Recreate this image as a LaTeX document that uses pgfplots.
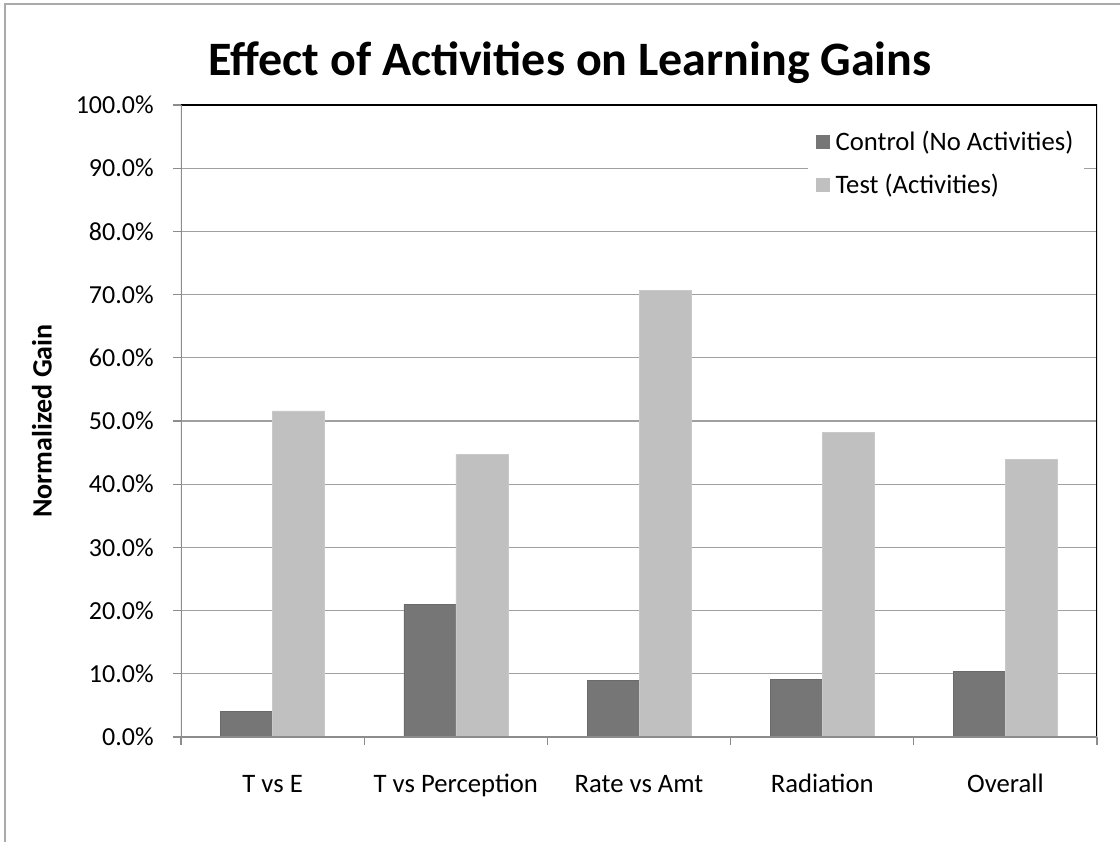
\documentclass[border=0pt]{standalone}
\usepackage{fontspec}
\setmainfont{Carlito}
\usepackage{pgfplots}
\pgfplotsset{compat=1.18}
\definecolor{ctrl}{RGB}{118,118,118}
\definecolor{test}{RGB}{192,192,192}
\definecolor{gridc}{RGB}{160,160,160}
\definecolor{axc}{RGB}{140,140,140}
\definecolor{frame}{RGB}{170,170,170}
\begin{document}
\begin{tikzpicture}
\begin{axis}[
  scale only axis,
  width=687pt, height=474pt,
  xmin=-0.5, xmax=4.5,
  ymin=0, ymax=100,
  ybar=0pt,
  bar width=39pt,
  axis line style={draw=none},
  xtick={0,1,2,3,4},
  xticklabels={T vs E, T vs Perception, Rate vs Amt, Radiation, Overall},
  x tick style={draw=none},
  minor xtick={-0.5,0.5,1.5,2.5,3.5,4.5},
  minor x tick style={draw=axc, line width=1pt},
  minor tick length=6pt,
  ytick={0,10,...,100},
  y tick style={draw=axc, line width=1pt},
  major tick length=6pt,
  tick align=outside,
  tick pos=left,
  ymajorgrids,
  major grid style={draw=gridc, line width=1pt},
  /pgf/number format/assume math mode=true,
  yticklabel={\pgfmathprintnumber[fixed,fixed zerofill,precision=1]{\tick}\%},
  yticklabel style={font=\fontsize{19.5}{22}\selectfont, xshift=-11pt},
  xticklabel style={font=\fontsize{20}{24}\selectfont, text height=14pt, text depth=4pt, yshift=-18pt},
  legend style={at={(rel axis cs:0.6845,0.976)}, anchor=north west, draw=none, fill=white,
    font=\fontsize{20}{24}\selectfont, row sep=12pt, inner xsep=6pt, inner ysep=6pt,
    /tikz/every odd column/.style={column sep=2pt}},
  legend cell align=left,
  legend image code/.code={\path[#1,draw=none] (0pt,-5.25pt) rectangle (10.5pt,5.25pt);},
]
\addplot[fill=ctrl, draw=ctrl!90!black] coordinates {(0,4.0) (1,21.0) (2,9.0) (3,9.1) (4,10.4)};
\addplot[fill=test, draw=test!85!white] coordinates {(0,51.6) (1,44.7) (2,70.7) (3,48.2) (4,43.9)};
\legend{Control (No Activities), Test (Activities)}
\draw[black, line width=1.5pt] (rel axis cs:0,1) -- (rel axis cs:1,1) -- (rel axis cs:1,0);
\draw[axc, line width=1.5pt] (rel axis cs:0,1) -- (rel axis cs:0,0) -- (rel axis cs:1,0);
\end{axis}
\begin{scope}[x=0.75pt, y=0.75pt]
\useasboundingbox (-181,-105) rectangle (939,737);
\draw[frame, line width=1.5pt] (-176,-105) -- (-176,733) -- (939,733);
\node[font=\fontsize{36}{40}\selectfont\bfseries] at (389,674) {Effect of Activities on Learning Gains};
\node[rotate=90, font=\fontsize{21}{24}\selectfont\bfseries] at (-139,316) {Normalized Gain};
\end{scope}
\end{tikzpicture}
\end{document}
